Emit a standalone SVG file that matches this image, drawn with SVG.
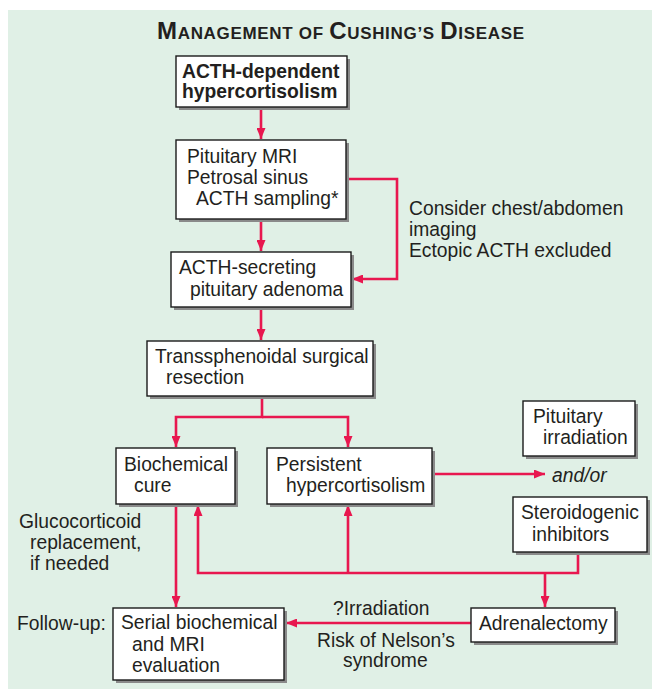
<svg xmlns="http://www.w3.org/2000/svg" width="652" height="689" viewBox="0 0 652 689">
<defs>
<marker id="ah" markerUnits="userSpaceOnUse" markerWidth="11" markerHeight="9" refX="11" refY="4.5" orient="auto">
<path d="M0,0 L11,4.5 L0,9 z" fill="#e8174f"/>
</marker>
<style>
.bx{fill:#fff;stroke:#1a1a1a;stroke-width:1.4}
.sh{fill:#8a8a8a}
.t{font-family:"Liberation Sans",Arial,sans-serif;font-size:19.3px;fill:#231f20}
.b{font-weight:bold}
.c{fill:none;stroke:#e8174f;stroke-width:2.6}
</style>
</defs>
<rect x="0" y="0" width="652" height="689" fill="#fff"/>
<rect x="8" y="10" width="644" height="679" fill="#e0f0e6"/>
<text class="t b" x="157" y="39" textLength="367" lengthAdjust="spacing"><tspan font-size="24">M</tspan><tspan font-size="17">ANAGEMENT OF </tspan><tspan font-size="24">C</tspan><tspan font-size="17">USHING’S </tspan><tspan font-size="24">D</tspan><tspan font-size="17">ISEASE</tspan></text>

<g id="connectors">
<path class="c" d="M261,107 V139" marker-end="url(#ah)"/>
<path class="c" d="M261,219 V251" marker-end="url(#ah)"/>
<path class="c" d="M346,179 H397 V279 H352" marker-end="url(#ah)"/>
<path class="c" d="M261,307 V340" marker-end="url(#ah)"/>
<path class="c" d="M262,396 V417 H176 V447" marker-end="url(#ah)"/>
<path class="c" d="M262,417 H348 V447" marker-end="url(#ah)"/>
<path class="c" d="M432,474 H545" marker-end="url(#ah)"/>
<path class="c" d="M578,552 V573 H198 V505" marker-end="url(#ah)"/>
<path class="c" d="M348,573 V505" marker-end="url(#ah)"/>
<path class="c" d="M545,573 V607" marker-end="url(#ah)"/>
<path class="c" d="M176,504 V607" marker-end="url(#ah)"/>
<path class="c" d="M471,623 H286" marker-end="url(#ah)"/>
</g>

<g id="acth-dependent">
<rect class="sh" x="179" y="59" width="171" height="51"/>
<rect class="bx" x="176" y="56" width="171" height="51"/>
<text class="t b" x="182" y="78">ACTH-dependent</text>
<text class="t b" x="182" y="98">hypercortisolism</text>
</g>

<g id="pituitary-mri">
<rect class="sh" x="179" y="143" width="170" height="79"/>
<rect class="bx" x="176" y="140" width="170" height="79"/>
<text class="t" x="187" y="163">Pituitary MRI</text>
<text class="t" x="187" y="184">Petrosal sinus</text>
<text class="t" x="196" y="205">ACTH sampling*</text>
</g>

<g id="side-note">
<text class="t" x="409" y="215">Consider chest/abdomen</text>
<text class="t" x="409" y="236">imaging</text>
<text class="t" x="409" y="257">Ectopic ACTH excluded</text>
</g>

<g id="acth-secreting">
<rect class="sh" x="174" y="255" width="180" height="55"/>
<rect class="bx" x="171" y="252" width="180" height="55"/>
<text class="t" x="179" y="274">ACTH-secreting</text>
<text class="t" x="190" y="296">pituitary adenoma</text>
</g>

<g id="transsphenoidal">
<rect class="sh" x="150" y="344" width="226" height="55"/>
<rect class="bx" x="147" y="341" width="226" height="55"/>
<text class="t" x="155" y="363">Transsphenoidal surgical</text>
<text class="t" x="166" y="384">resection</text>
</g>

<g id="biochemical-cure">
<rect class="sh" x="119" y="451" width="119" height="56"/>
<rect class="bx" x="116" y="448" width="119" height="56"/>
<text class="t" x="124" y="471">Biochemical</text>
<text class="t" x="134" y="492">cure</text>
</g>

<g id="persistent">
<rect class="sh" x="270" y="451" width="165" height="56"/>
<rect class="bx" x="267" y="448" width="165" height="56"/>
<text class="t" x="276" y="471">Persistent</text>
<text class="t" x="286" y="492">hypercortisolism</text>
</g>

<g id="pituitary-irradiation">
<rect class="sh" x="526" y="404" width="112" height="55"/>
<rect class="bx" x="523" y="401" width="112" height="55"/>
<text class="t" x="533" y="423">Pituitary</text>
<text class="t" x="543" y="444">irradiation</text>
</g>

<text class="t" x="552" y="482" font-style="italic">and/or</text>

<g id="steroidogenic">
<rect class="sh" x="516" y="500" width="134" height="55"/>
<rect class="bx" x="513" y="497" width="134" height="55"/>
<text class="t" x="521" y="519">Steroidogenic</text>
<text class="t" x="532" y="541">inhibitors</text>
</g>

<g id="glucocorticoid-note">
<text class="t" x="19" y="528">Glucocorticoid</text>
<text class="t" x="30" y="549">replacement,</text>
<text class="t" x="30" y="570">if needed</text>
</g>

<text class="t" x="17" y="630">Follow-up:</text>

<g id="serial">
<rect class="sh" x="116" y="611" width="171" height="72"/>
<rect class="bx" x="113" y="608" width="171" height="72"/>
<text class="t" x="121" y="629">Serial biochemical</text>
<text class="t" x="132" y="651">and MRI</text>
<text class="t" x="132" y="672">evaluation</text>
</g>

<g id="adrenalectomy">
<rect class="sh" x="474" y="611" width="144" height="34"/>
<rect class="bx" x="471" y="608" width="144" height="34"/>
<text class="t" x="479" y="630">Adrenalectomy</text>
</g>

<g id="nelson-note">
<text class="t" x="333" y="615">?Irradiation</text>
<text class="t" x="317" y="647">Risk of Nelson’s</text>
<text class="t" x="343" y="667">syndrome</text>
</g>
</svg>
